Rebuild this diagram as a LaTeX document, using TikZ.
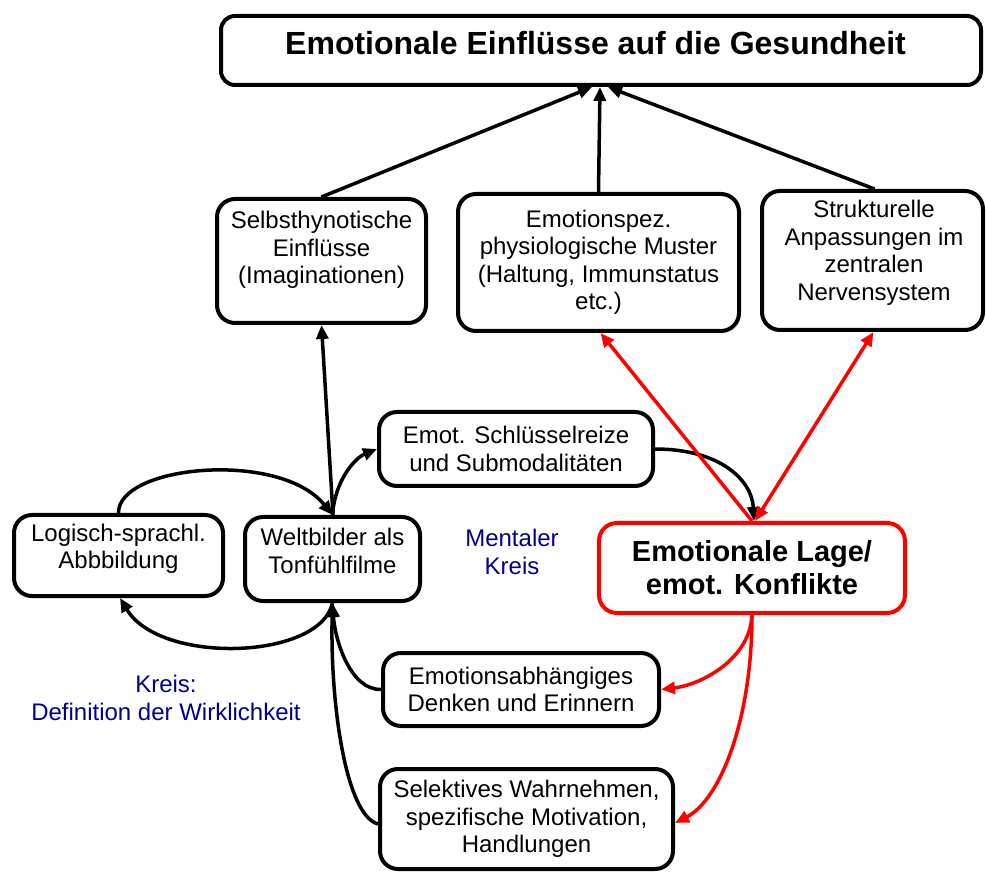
\documentclass[tikz,border=0pt]{standalone}
\usepackage{fontspec}
\setmainfont{Liberation Sans}
\usetikzlibrary{arrows.meta,calc}
\definecolor{navyblue}{RGB}{0,0,140}
\begin{document}
\begin{tikzpicture}[x=1pt,y=-1pt,
  >={Triangle[length=14pt,width=12pt]},
  box/.style={draw=black, line width=4pt, rounded corners=18pt, fill=white,
    align=center, inner sep=0pt, font=\fontsize{24}{27.5}\selectfont},
  redbox/.style={box, draw=red, font=\bfseries\fontsize{29}{33}\selectfont},
  txt/.style={align=center, inner sep=0pt, font=\fontsize{24}{27.5}\selectfont},
  lbl/.style={txt, text=navyblue},
  arr/.style={line width=3.5pt, ->},
  rarr/.style={arr, draw=red},
  rarrboth/.style={line width=3.5pt, draw=red, <->}]
\useasboundingbox (0,0) rectangle (986,874);

% boxes
\node[box, rounded corners=14pt, minimum width=760pt, minimum height=69pt] (top) at (601,50.5) {};
\node[anchor=base, inner sep=0pt, font=\bfseries\fontsize{32}{36}\selectfont] (toptxt) at (595.5,55) {Emotionale Einflüsse auf die Gesundheit};

\node[box, minimum width=209pt, minimum height=124pt] (selbst) at (321.5,261) {};
\node[txt] (selbsttxt) at (321.5,250) {Selbsthynotische\\Einflüsse\\(Imaginationen)};

\node[box, minimum width=281pt, minimum height=137pt] (physio) at (598.5,262.5) {Emotionspez.\\physiologische Muster\\(Haltung, Immunstatus\\etc.)};

\node[box, minimum width=221pt, minimum height=139pt] (struktur) at (872.5,260.5) {};
\node[txt] (strukturtxt) at (874,253) {Strukturelle\\Anpassungen im\\zentralen\\Nervensystem};

\node[box, minimum width=274pt, minimum height=74pt] (schluessel) at (516,449) {Emot. Schlüsselreize\\und Submodalitäten};

\node[box, minimum width=175pt, minimum height=84pt] (welt) at (332.5,559) {};
\node[txt] (welttxt) at (332.5,551) {Weltbilder als\\Tonfühlfilme};

\node[box, minimum width=209pt, minimum height=81pt] (logisch) at (118.5,555.5) {};
\node[txt] (logischtxt) at (118.5,549) {Logisch-sprachl.\\Abbbildung};

\node[redbox, minimum width=306pt, minimum height=90pt] (red) at (752,568) {Emotionale Lage/\\emot. Konflikte};

\node[box, minimum width=276pt, minimum height=73pt] (emoabh) at (521,689.5) {Emotionsabhängiges\\Denken und Erinnern};

\node[box, minimum width=293pt, minimum height=100pt] (selekt) at (526.5,819) {Selektives Wahrnehmen,\\spezifische Motivation,\\Handlungen};

% labels
\node[lbl] (mental) at (512,552) {Mentaler\\Kreis};
\node[lbl] (kreis) at (166,698) {Kreis:\\Definition der Wirklichkeit};

% black connectors to the top
\draw[arr] (selbst.north) -- ([xshift=-9pt]top.south);
\draw[arr] (physio.north) -- ([xshift=-1pt]top.south);
\draw[arr] ([xshift=2pt]struktur.north) -- ([xshift=7pt]top.south);

% left part
\draw[arr] ([xshift=0.5pt]welt.north) -- (selbst.south);
\draw[arr] (logisch.north) .. controls (118,465) and (280,450) .. (welt.north);
\draw[arr] (welt.north) .. controls (335,480) and (355,458) .. (schluessel.west);
\draw[arr] (schluessel.east) .. controls (720,449) and (752,480) .. ([xshift=2pt]red.north);
\draw[arr] (welt.south) .. controls (320,660) and (160,665) .. ([xshift=1.5pt]logisch.south);
\draw[arr] (emoabh.west) .. controls (350,690) and (335,640) .. (welt.south);
\draw[arr] ([yshift=-5pt]selekt.west) .. controls (345,815) and (330,700) .. (welt.south);

% red connectors
\draw[rarr] (red.north) -- ([xshift=2pt]physio.south);
\draw[rarrboth] ([xshift=3pt]red.north) -- ([xshift=1pt]struktur.south);
\draw[rarr] (red.south) .. controls (750,660) and (700,685) .. (emoabh.east);
\draw[rarr] (red.south) .. controls (752,720) and (720,800) .. ([yshift=-4pt]selekt.east);
\end{tikzpicture}
\end{document}
